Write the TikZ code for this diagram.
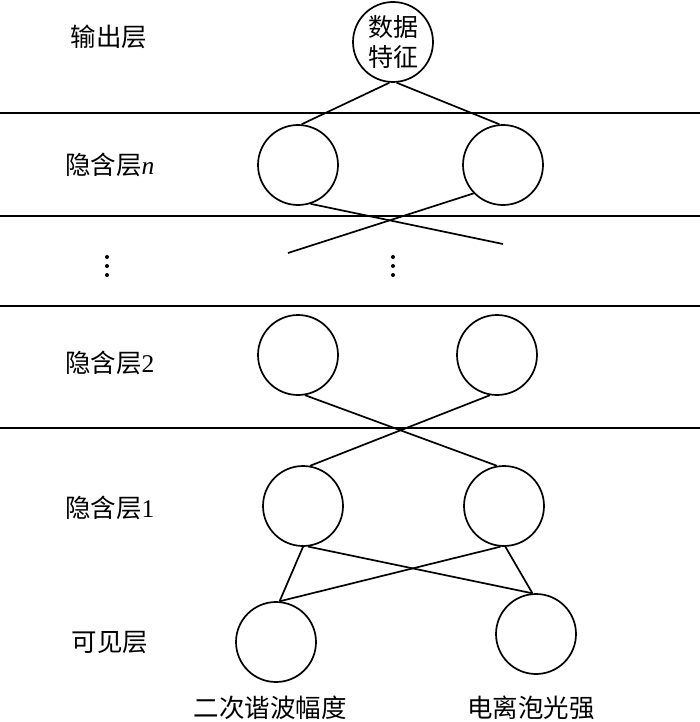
\documentclass[tikz,border=0pt]{standalone}
\usepackage{fontspec}
\setmainfont{Liberation Serif}
\newfontfamily\cjk{Noto Sans CJK SC}
\begin{document}
\begin{tikzpicture}[x=1pt,y=-1pt,
  neuron/.style={draw,circle,line width=1.7pt,minimum size=80pt,inner sep=0pt,align=center,font=\fontsize{25}{30}\selectfont\cjk},
  lbl/.style={inner sep=0pt,font=\fontsize{25.5}{30}\selectfont},
  conn/.style={line width=1.7pt},
  sep/.style={line width=1.7pt},
  dotc/.style={fill,circle,inner sep=0pt,minimum size=4pt}]
\useasboundingbox (0,0) rectangle (700,722);
% layer separators
\coordinate (l1a) at (0,113); \coordinate (l1b) at (700,113);
\coordinate (l2a) at (0,216); \coordinate (l2b) at (700,216);
\coordinate (l3a) at (0,306); \coordinate (l3b) at (700,306);
\coordinate (l4a) at (0,428); \coordinate (l4b) at (700,428);
\draw[sep] (l1a) -- (l1b);
\draw[sep] (l2a) -- (l2b);
\draw[sep] (l3a) -- (l3b);
\draw[sep] (l4a) -- (l4b);
% neurons
\node[neuron] (out) at (393,42) {数据\\特征};
\node[neuron] (hn1) at (298,165) {};
\node[neuron] (hn2) at (503,165) {};
\node[neuron] (h21) at (298,355) {};
\node[neuron] (h22) at (497,355) {};
\node[neuron] (h11) at (303,506) {};
\node[neuron] (h12) at (504,506) {};
\node[neuron] (v1) at (276,642) {};
\node[neuron] (v2) at (536,634) {};
% connectors
\draw[conn] (out.-95) -- (hn1.85);
\draw[conn] (out.-85) -- (hn2.95);
\coordinate (fa) at (503,244);
\coordinate (fb) at (288,253);
\draw[conn] (hn1.-72) -- (fa);
\draw[conn] (hn2.-136) -- (fb);
\draw[conn] (h21.-80) -- (h12.100);
\draw[conn] (h22.-100) -- (h11.80);
\draw[conn] (h11.-90) -- (v1.85);
\draw[conn] (h11.-83) -- (v2.95);
\draw[conn] (h12.-95) -- (v1.85);
\draw[conn] (h12.-88) -- (v2.95);
% dots
\foreach \y [count=\i] in {257,266,275} {
  \node[dotc] (dl\i) at (107,\y) {};
  \node[dotc] (dm\i) at (393,\y) {};
}
% layer labels
\node[lbl] (tout) at (109,37) {\cjk 输出层};
\node[lbl,anchor=west] (thn) at (65,165) {{\cjk 隐含层}\textit{n}};
\node[lbl,anchor=west] (th2) at (65,363) {{\cjk 隐含层}2};
\node[lbl,anchor=west] (th1) at (65,508) {{\cjk 隐含层}1};
\node[lbl] (tvis) at (110,643) {\cjk 可见层};
\node[lbl] (tv1) at (270,708) {\cjk 二次谐波幅度};
\node[lbl] (tv2) at (531,708) {\cjk 电离泡光强};
\end{tikzpicture}
\end{document}
